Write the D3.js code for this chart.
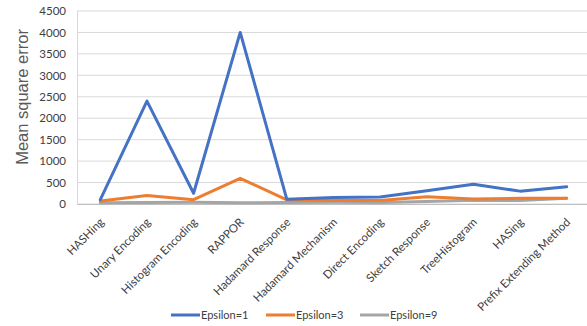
<!DOCTYPE html>
<html><head><meta charset="utf-8">
<script src="https://cdn.jsdelivr.net/npm/d3@7"></script>
<style>body{margin:0;background:#fff}svg{display:block}</style>
</head><body><svg id="c" width="587" height="326"></svg>
<script>
const categories = ["HASHing","Unary Encoding","Histogram Encoding","RAPPOR","Hadamard Response","Hadamard Mechanism","Direct Encoding","Sketch Response","TreeHistogram","HASing","Prefix Extending Method"];
const eps1 = [100,2400,250,4000,110,150,165,310,460,300,400];
const eps3 = [70,200,100,600,95,90,80,170,115,135,135];
const eps9 = [30,35,40,30,35,40,35,60,85,80,135];
const seriesNames = ["Epsilon=1","Epsilon=3","Epsilon=9"];
const colors = ["#4472C4","#ED7D31","#A5A5A5"];
const yTicks = [0,500,1000,1500,2000,2500,3000,3500,4000,4500];

const svg = d3.select("#c");
const L = 77, R = 590, T = 11, B = 204;
const x = d3.scalePoint().domain(categories).range([L, R]).padding(0.5);
const y = d3.scaleLinear().domain([0,4500]).range([B, T]);
const font = "Lato, 'Liberation Sans', sans-serif";

// gridlines
svg.append("g").selectAll("line").data(yTicks).join("line")
  .attr("x1", L).attr("x2", 587).attr("y1", d=>y(d)).attr("y2", d=>y(d))
  .attr("stroke", "#d9d9d9").attr("stroke-width", 1);
svg.append("line").attr("x1", L+0.5).attr("x2", L+0.5).attr("y1", T).attr("y2", B)
  .attr("stroke", "#d9d9d9");

// y axis
const ya = svg.append("g").attr("transform", `translate(${L},0)`)
  .call(d3.axisLeft(y).tickValues(yTicks).tickFormat(d3.format("d")).tickSize(0).tickPadding(11));
ya.select(".domain").remove();
ya.selectAll("text").attr("font-family", font).attr("font-size", 11.5).attr("fill", "#404040");

// x axis labels
const xa = svg.append("g").attr("transform", `translate(0,${B})`)
  .call(d3.axisBottom(x).tickSize(0).tickPadding(0));
xa.select(".domain").attr("stroke", "#bfbfbf");
xa.selectAll("text")
  .attr("font-family", font).attr("font-size", 11.5).attr("fill", "#404040")
  .attr("text-anchor", "end")
  .attr("dy", "0.35em")
  .attr("transform", "translate(1,16) rotate(-45)");

// y title
svg.append("text").attr("transform", "translate(28,97) rotate(-90)")
  .attr("text-anchor", "middle").attr("font-family", "'Liberation Sans', Arial, sans-serif")
  .attr("font-size", 16.5).attr("fill", "#595959").text("Mean square error");

// lines
const data = [eps1, eps3, eps9];
const line = d3.line().x((d,i)=>x(categories[i])).y(d=>y(d));
[2,1,0].forEach(k => {
  svg.append("path").datum(data[k]).attr("d", line)
    .attr("fill", "none").attr("stroke", colors[k]).attr("stroke-width", 3)
    .attr("stroke-linejoin", "round").attr("stroke-linecap", "round");
});

// legend
const lx = [171, 266, 360];
const lg = svg.append("g");
seriesNames.forEach((n,i) => {
  lg.append("line").attr("x1", lx[i]).attr("x2", lx[i]+29).attr("y1", 315).attr("y2", 315)
    .attr("stroke", colors[i]).attr("stroke-width", 3);
  lg.append("text").attr("x", lx[i]+30).attr("y", 315).attr("dy", "0.35em")
    .attr("font-family", font).attr("font-size", 11).attr("fill", "#404040").text(n);
});
</script></body></html>
